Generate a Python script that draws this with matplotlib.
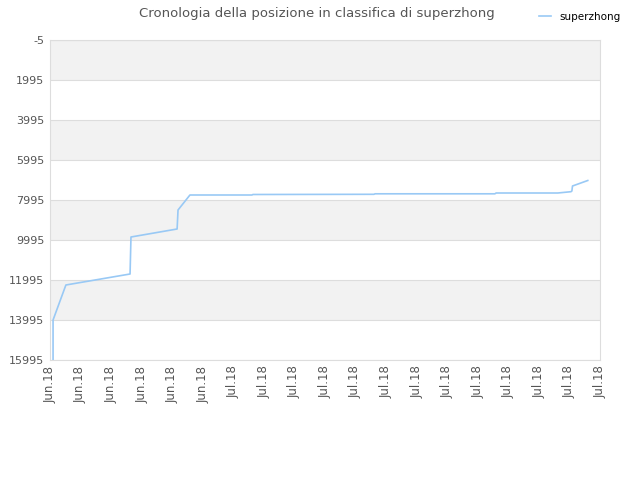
import matplotlib
matplotlib.use("Agg")
import matplotlib.pyplot as plt

# posizione in classifica nel tempo (x = indice del tick)
xs = [0.10, 0.10, 0.52, 2.62, 2.65, 4.16, 4.19, 4.58, 6.61, 6.64, 10.60, 10.64,
      14.56, 14.60, 16.62, 17.05, 17.08, 17.10, 17.60]
rank = [15995, 13995, 12245, 11695, 9845, 9445, 8495, 7745, 7745, 7720, 7710, 7685,
        7685, 7645, 7645, 7580, 7545, 7295, 7020]
tick_labels = ["Jun.18"] * 6 + ["Jul.18"] * 13
yticks = [-5, 1995, 3995, 5995, 7995, 9995, 11995, 13995, 15995]

fig = plt.figure(figsize=(6.4, 4.8), dpi=100)
ax = fig.add_axes([50/640, 1-360/480, 550/640, 320/480])

# bande alternate
for i in range(len(yticks)-1):
    if i % 2 == 0:
        ax.axhspan(yticks[i], yticks[i+1], color='#f2f2f2', zorder=0, lw=0)
for y in yticks:
    ax.axhline(y, color='#dddddd', lw=0.8, zorder=1)

ax.plot(xs, rank, color='#99c9f5', lw=1.2, zorder=3, label='superzhong')

ax.set_xlim(0, 18)
ax.set_ylim(15995, -5)
ax.set_yticks(yticks)
ax.set_yticklabels([str(y) for y in yticks], fontsize=8, color='#555555')
ax.set_xticks(range(19))
ax.set_xticklabels(tick_labels, rotation=90, fontsize=8.5, color='#555555')
ax.tick_params(length=0, pad=4)
for s in ax.spines.values():
    s.set_color('#dddddd')

fig.text(0.495, 0.985, "Cronologia della posizione in classifica di superzhong",
         ha='center', va='top', fontsize=9.5, color='#555555')
leg = fig.legend(loc='upper right', bbox_to_anchor=(0.985, 0.995), frameon=False,
                 fontsize=7.5, handlelength=1.2, handletextpad=0.8)

plt.savefig('out.png', dpi=100)
